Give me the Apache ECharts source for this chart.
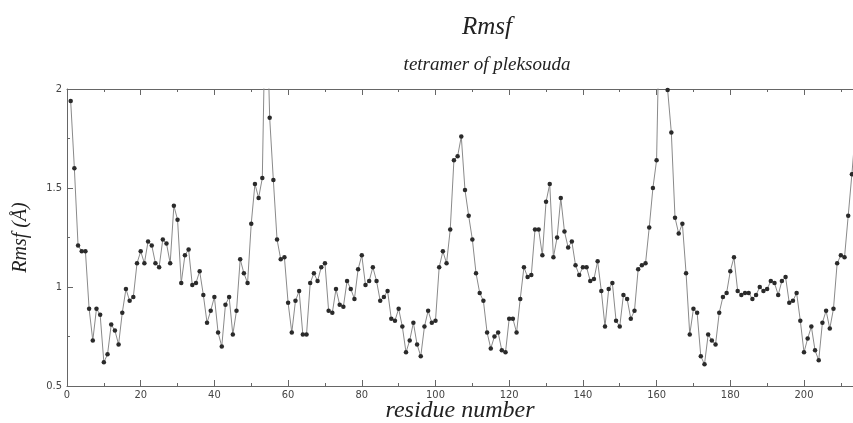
<!DOCTYPE html>
<html>
<head>
<meta charset="utf-8">
<script src="https://cdn.jsdelivr.net/npm/echarts@6/dist/echarts.min.js"></script>
<style>html,body{margin:0;padding:0;background:#fff;}#c{width:853px;height:423px;}</style>
</head>
<body>
<div id="c"></div>
<script>
const residues = [];
for (let i = 1; i <= 214; i++) residues.push(i);
const rmsf = [
1.94,1.60,1.21,1.18,1.18,0.89,0.73,0.89,0.86,0.62,
0.66,0.81,0.78,0.71,0.87,0.99,0.93,0.95,1.12,1.18,
1.12,1.23,1.21,1.12,1.10,1.24,1.22,1.12,1.41,1.34,
1.02,1.16,1.19,1.01,1.02,1.08,0.96,0.82,0.88,0.95,
0.77,0.70,0.91,0.95,0.76,0.88,1.14,1.07,1.02,1.32,
1.52,1.45,1.55,2.60,1.855,1.54,1.24,1.14,1.15,0.92,
0.77,0.93,0.98,0.76,0.76,1.02,1.07,1.03,1.10,1.12,
0.88,0.87,0.99,0.91,0.90,1.03,0.99,0.94,1.09,1.16,
1.01,1.03,1.10,1.03,0.93,0.95,0.98,0.84,0.83,0.89,
0.80,0.67,0.73,0.82,0.71,0.65,0.80,0.88,0.82,0.83,
1.10,1.18,1.12,1.29,1.64,1.66,1.76,1.49,1.36,1.24,
1.07,0.97,0.93,0.77,0.69,0.75,0.77,0.68,0.67,0.84,
0.84,0.77,0.94,1.10,1.05,1.06,1.29,1.29,1.16,1.43,
1.52,1.15,1.25,1.45,1.28,1.20,1.23,1.11,1.06,1.10,
1.10,1.03,1.04,1.13,0.98,0.80,0.99,1.02,0.83,0.80,
0.96,0.94,0.84,0.88,1.09,1.11,1.12,1.30,1.50,1.64,
2.60,2.60,1.995,1.78,1.35,1.27,1.32,1.07,0.76,0.89,
0.87,0.65,0.61,0.76,0.73,0.71,0.87,0.95,0.97,1.08,
1.15,0.98,0.96,0.97,0.97,0.94,0.96,1.00,0.98,0.99,
1.03,1.02,0.96,1.03,1.05,0.92,0.93,0.97,0.83,0.67,
0.74,0.80,0.68,0.63,0.82,0.88,0.79,0.89,1.12,1.16,
1.15,1.36,1.57,1.80
];
const titleText = 'Rmsf';
const subtitleText = 'tetramer of pleksouda';
const xName = 'residue number';
const yName = 'Rmsf (Å)';
const yTicks = [0.5, 1, 1.5, 2];

const chart = echarts.init(document.getElementById('c'), null, {renderer: 'canvas'});
const axisCol = '#666';
const labelFont = {color: '#444', fontSize: 11, fontFamily: 'Liberation Sans Narrow, DejaVu Sans Condensed, sans-serif'};
const xCommon = {
  type: 'value', min: 0, max: 213.3, interval: 20,
  axisLine: {show: true, lineStyle: {color: axisCol, width: 1}},
  axisTick: {show: true, inside: true, length: 6, lineStyle: {color: axisCol}},
  minorTick: {show: true, splitNumber: 2, length: 3, lineStyle: {color: axisCol}},
  splitLine: {show: false}
};
chart.setOption({
  animation: false,
  backgroundColor: '#fff',
  grid: {left: 67, right: 0, top: 89, bottom: 37, show: false, containLabel: false, outerBoundsMode: 'none'},
  title: [
    {text: titleText, left: 482, top: 10, textAlign: 'center',
     textStyle: {fontFamily: 'Liberation Serif, serif', fontStyle: 'italic', fontWeight: 'normal', fontSize: 25, color: '#222'}},
    {text: subtitleText, left: 482, top: 50, textAlign: 'center',
     textStyle: {fontFamily: 'Liberation Serif, serif', fontStyle: 'italic', fontWeight: 'normal', fontSize: 19, color: '#222'}}
  ],
  xAxis: [
    Object.assign({}, xCommon, {
      position: 'bottom',
      name: xName, nameLocation: 'middle', nameGap: 13, nameMoveOverlap: false,
      nameTextStyle: {fontFamily: 'Liberation Serif, serif', fontStyle: 'italic', fontSize: 24, color: '#222'},
      axisLabel: Object.assign({margin: 4, showMaxLabel: false}, labelFont)
    }),
    Object.assign({}, xCommon, {
      position: 'top',
      axisLabel: {show: false}
    })
  ],
  yAxis: {
    type: 'value', min: 0.5, max: 2, interval: 0.5,
    name: yName, nameLocation: 'middle', nameGap: 36, nameMoveOverlap: false,
    nameTextStyle: {fontFamily: 'Liberation Serif, serif', fontStyle: 'italic', fontSize: 20, color: '#222'},
    axisLine: {show: true, lineStyle: {color: axisCol, width: 1}},
    axisTick: {show: true, inside: true, length: 6, lineStyle: {color: axisCol}},
    minorTick: {show: true, splitNumber: 2, length: 3, lineStyle: {color: axisCol}},
    splitLine: {show: false},
    axisLabel: Object.assign({margin: 5, formatter: v => yTicks.indexOf(v) >= 0 ? String(v) : ''}, labelFont)
  },
  series: [{
    type: 'line',
    data: residues.map((r, i) => [r, rmsf[i]]),
    clip: true,
    symbol: 'circle',
    symbolSize: 4.5,
    showSymbol: true,
    itemStyle: {color: '#2a2a2a'},
    lineStyle: {color: '#8a8a8a', width: 1},
    emphasis: {disabled: true}
  }]
});
</script>
</body>
</html>
